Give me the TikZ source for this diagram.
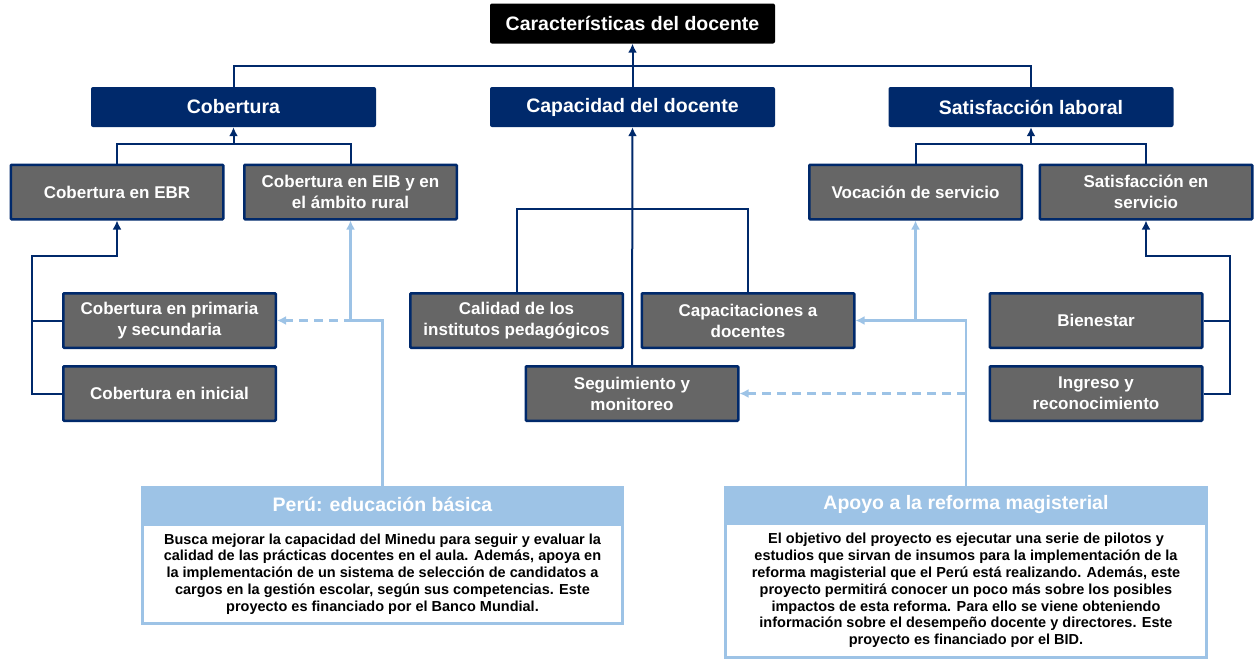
\documentclass[tikz,border=0pt]{standalone}
\usepackage{fontspec}
\setmainfont{Liberation Sans}
\usetikzlibrary{arrows.meta}
\definecolor{navy}{RGB}{0,41,107}
\definecolor{boxgray}{RGB}{102,102,102}
\definecolor{lblue}{RGB}{157,195,230}
\tikzset{head/.style={fill=black,text=white,font=\bfseries\fontsize{19.5}{23}\selectfont,minimum width=285pt,minimum height=40pt,inner sep=0pt,rounded corners=2pt}}
\tikzset{main/.style={head,fill=navy}}
\tikzset{sub/.style={draw=navy,line width=2.5pt,fill=boxgray,text=white,align=center,font=\bfseries\fontsize{17}{21}\selectfont,minimum width=212.5pt,minimum height=54.5pt,inner sep=0pt,rounded corners=1pt}}
\tikzset{projtitle/.style={fill=lblue,text=white,font=\bfseries\fontsize{19.5}{23}\selectfont,minimum height=37pt,inner sep=0pt}}
\tikzset{projbody/.style={draw=lblue,line width=3pt,fill=white,align=center,font=\bfseries\fontsize{14.5}{16.8}\selectfont,inner sep=0pt}}
\tikzset{link/.style={draw=navy,line width=2pt}}
\tikzset{feed/.style={draw=lblue,line width=2.5pt}}

\begin{document}
\begin{tikzpicture}[x=1pt,y=-1pt,>={Latex[length=9pt,width=9pt]}]
        \useasboundingbox (0,0) rectangle (1254,659);
        % levels
        \node[head] (car) at (632.5,23.5) {Características del docente};
        \node[main] (cob) at (233.5,107) {Cobertura};
        \node[main] (cap) at (632.5,107) {Capacidad del docente};
        \node[main] (sat) at (1031,107) {Satisfacción laboral};
        \node[sub] (ebr) at (117,192) {Cobertura en EBR};
        \node[sub] (eib) at (350.5,192) {Cobertura en EIB y en\\el ámbito rural};
        \node[sub] (voc) at (915.5,192) {Vocación de servicio};
        \node[sub] (ssv) at (1146,192) {Satisfacción en\\servicio};
        \node[sub] (pri) at (169.5,320.5) {Cobertura en primaria\\y secundaria};
        \node[sub] (ini) at (169.5,393.5) {Cobertura en inicial};
        \node[sub] (cal) at (516.5,320.5) {Calidad de los\\institutos pedagógicos};
        \node[sub] (cpd) at (748,320.5) {Capacitaciones a\\docentes};
        \node[sub] (seg) at (632,393.5) {Seguimiento y\\monitoreo};
        \node[sub] (bie) at (1096,320.5) {Bienestar};
        \node[sub] (ing) at (1096,393.5) {Ingreso y\\reconocimiento};
        % projects
        \node[projtitle,minimum width=483pt] (perut) at (382.5,504.5) {Perú: educación básica};
        \node[projbody,minimum width=480pt,minimum height=99pt] (perub) at (382.5,574) {Busca mejorar la capacidad del Minedu para seguir y evaluar la\\calidad de las prácticas docentes en el aula. Además, apoya en\\la implementación de un sistema de selección de candidatos a\\cargos en la gestión escolar, según sus competencias. Este\\proyecto es financiado por el Banco Mundial.};
        \node[projtitle,minimum width=484pt] (apot) at (966,504.5) {Apoyo a la reforma magisterial};
        \node[projbody,minimum width=481pt,minimum height=134pt] (apob) at (966,590.5) {El objetivo del proyecto es ejecutar una serie de pilotos y\\estudios que sirvan de insumos para la implementación de la\\reforma magisterial que el Perú está realizando. Además, este\\proyecto permitirá conocer un poco más sobre los posibles\\impactos de esta reforma. Para ello se viene obteniendo\\información sobre el desempeño docente y directores. Este\\proyecto es financiado por el BID.};
        % joints
        \coordinate (j0) at (632.5,66);
        \coordinate (j1) at (233.5,144);
        \coordinate (j2) at (1031,144);
        \coordinate (j3) at (632,209);
        \coordinate (l1) at (32,256);
        \coordinate (r1) at (1230,256);
        \coordinate (p1) at (382.5,320.5);
        \coordinate (a1) at (966,320.5);
        \coordinate (a2) at (966,393.5);
        % navy tree
        \draw[link] (cob.north) |- (j0) -| (sat.north);
        \draw[link,->] (cap.north) -- (car.south);
        \draw[link] (ebr.north) |- (j1) -| (eib.north);
        \draw[link,->] (j1) -- (cob.south);
        \draw[link] (voc.north) |- (j2) -| (ssv.north);
        \draw[link,->] (j2) -- (sat.south);
        \draw[link] (cal.north) |- (j3) -| (cpd.north);
        \draw[link,->] (seg.north) -- (cap.south);
        \draw[link,->] (ini.west) -| (l1) -| (ebr.south);
        \draw[link] (pri.west) -- (pri.west -| l1);
        \draw[link,->] (ing.east) -| (r1) -| (ssv.south);
        \draw[link] (bie.east) -- (bie.east -| r1);
        % light blue
        \draw[feed,->] (perut.north) -- (p1) -| (eib.south);
        \draw[feed,->,dash pattern=on 9pt off 6pt] (p1) -- (pri.east);
        \draw[feed,->] (apot.north) -- (a1) -| (voc.south);
        \draw[feed,->] (a1) -- (cpd.east);
        \draw[feed,->,dash pattern=on 9pt off 6pt] (a2) -- (seg.east);
      \end{tikzpicture}
\end{document}
